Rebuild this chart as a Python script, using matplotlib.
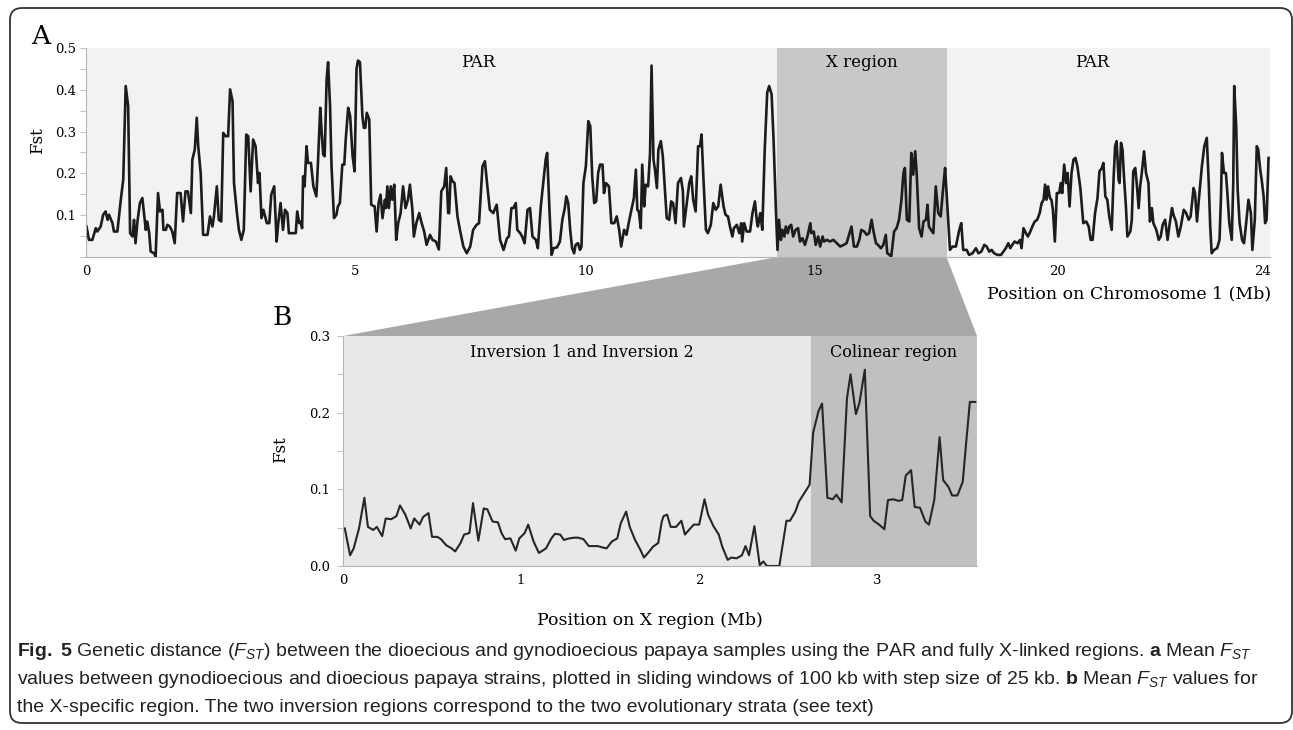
import matplotlib
matplotlib.use('Agg')
import matplotlib.pyplot as plt
from matplotlib.patches import Polygon, FancyBboxPatch
from matplotlib.ticker import MultipleLocator

# Panel A: mean Fst along chromosome 1 (position in Mb)
pos_a = [
    0.01, 0.06, 0.13, 0.20, 0.23, 0.30, 0.35, 0.40, 0.44, 0.47,
    0.54, 0.57, 0.64, 0.71, 0.76, 0.81, 0.86, 0.90, 0.95, 0.98,
    1.01, 1.05, 1.10, 1.15, 1.22, 1.25, 1.29, 1.32, 1.39, 1.42,
    1.47, 1.51, 1.56, 1.58, 1.63, 1.66, 1.71, 1.76, 1.81, 1.86,
    1.93, 1.98, 2.03, 2.08, 2.14, 2.17, 2.22, 2.26, 2.29, 2.34,
    2.39, 2.48, 2.53, 2.58, 2.61, 2.67, 2.71, 2.76, 2.80, 2.85,
    2.90, 2.94, 2.99, 3.02, 3.08, 3.12, 3.17, 3.22, 3.27, 3.31,
    3.36, 3.41, 3.46, 3.51, 3.54, 3.58, 3.62, 3.69, 3.74, 3.78,
    3.84, 3.89, 3.92, 3.97, 4.02, 4.06, 4.11,
    4.14, 4.21, 4.28, 4.31, 4.35, 4.38, 4.41, 4.43, 4.46, 4.50,
    4.53, 4.59, 4.64, 4.70, 4.73, 4.78, 4.81, 4.84, 4.87, 4.91,
    4.94, 4.98, 5.01, 5.06, 5.11, 5.14, 5.18, 5.23, 5.27, 5.30,
    5.35, 5.39, 5.44, 5.48, 5.52, 5.55, 5.59, 5.64, 5.67, 5.70,
    5.73, 5.78, 5.82, 5.89, 5.93, 5.97, 6.01, 6.05, 6.10, 6.12,
    6.15, 6.18, 6.22, 6.25, 6.29, 6.33, 6.37, 6.42, 6.47, 6.52,
    6.57, 6.61, 6.66, 6.69, 6.74, 6.80, 6.84, 6.90, 6.95, 7.02,
    7.07, 7.14, 7.20, 7.25, 7.31, 7.35, 7.39, 7.41, 7.44, 7.48,
    7.52, 7.58, 7.63, 7.70, 7.77, 7.84, 7.90, 7.97, 8.02, 8.09,
    8.14, 8.19, 8.24,
    8.31, 8.38, 8.45, 8.52, 8.59, 8.63, 8.68, 8.72, 8.77, 8.80,
    8.86, 8.90, 8.95, 9.01, 9.06, 9.11, 9.18, 9.22, 9.28, 9.33,
    9.38, 9.41, 9.46, 9.50, 9.54, 9.61, 9.67, 9.72, 9.77, 9.80,
    9.84, 9.88, 9.92, 9.96, 9.99, 10.04, 10.08, 10.11, 10.15, 10.20,
    10.25, 10.29, 10.33, 10.37, 10.41, 10.45, 10.49, 10.54, 10.57, 10.61,
    10.67, 10.72, 10.78, 10.83, 10.88, 10.92, 10.98, 11.03, 11.08, 11.15,
    11.18, 11.22, 11.25, 11.28, 11.32, 11.35, 11.39, 11.42, 11.47, 11.51,
    11.54, 11.58, 11.61, 11.65, 11.68, 11.73, 11.77, 11.81, 11.85, 11.90,
    11.94, 11.98, 12.03, 12.08, 12.14, 12.18, 12.20,
    12.26, 12.31, 12.35, 12.39, 12.44, 12.49, 12.53, 12.56, 12.60, 12.65,
    12.69, 12.75, 12.80, 12.85, 12.90, 12.95, 13.01, 13.05, 13.10, 13.14,
    13.19, 13.22, 13.28, 13.33, 13.37, 13.39, 13.43, 13.48, 13.55, 13.60,
    13.65, 13.69, 13.71, 13.76, 13.80, 13.85, 13.90, 13.94, 13.99, 14.03,
    14.08, 14.11, 14.14, 14.18, 14.21, 14.25, 14.28, 14.32, 14.35, 14.39,
    14.43, 14.48, 14.53, 14.57, 14.62, 14.67, 14.72, 14.78, 14.80, 14.85,
    14.89, 14.94, 14.98, 15.03, 15.06, 15.12, 15.18, 15.25, 15.32, 15.39,
    15.46, 15.52, 15.57, 15.62, 15.67, 15.73, 15.78, 15.82, 15.88, 15.93,
    15.98, 16.03, 16.07, 16.12, 16.16, 16.22, 16.27, 16.32, 16.35, 16.40,
    16.43, 16.49, 16.54, 16.59, 16.64, 16.68, 16.71, 16.75, 16.80, 16.84,
    16.88, 16.92, 16.95, 17.00, 17.05, 17.09, 17.14, 17.17, 17.20, 17.24,
    17.29, 17.34, 17.39, 17.44, 17.50, 17.53, 17.58, 17.63, 17.68, 17.75,
    17.82, 17.86, 17.90, 17.97, 18.02, 18.09, 18.16, 18.21, 18.27, 18.33,
    18.38, 18.43, 18.48, 18.53, 18.60, 18.67, 18.72, 18.77, 18.82, 18.86,
    18.90, 18.95, 19.01, 19.06, 19.09, 19.13, 19.18, 19.22, 19.27, 19.31,
    19.36, 19.41, 19.46, 19.50, 19.54, 19.57, 19.60, 19.63, 19.67, 19.70,
    19.73, 19.77, 19.81, 19.86, 19.89, 19.92, 19.96, 20.00, 20.03, 20.07,
    20.11, 20.15, 20.19, 20.23, 20.29,
    20.35, 20.41, 20.46, 20.50, 20.54, 20.59, 20.64, 20.68, 20.73, 20.76,
    20.80, 20.84, 20.88, 20.93, 20.97, 21.00, 21.03, 21.07, 21.09, 21.12,
    21.15, 21.18, 21.22, 21.25, 21.31, 21.34, 21.37, 21.41, 21.44, 21.48,
    21.51, 21.54, 21.59, 21.63, 21.68, 21.71, 21.75, 21.78, 21.84, 21.89,
    21.93, 21.97, 22.02, 22.07, 22.11, 22.16, 22.19, 22.24, 22.29, 22.34,
    22.40, 22.45, 22.50, 22.54, 22.60, 22.63, 22.67, 22.72, 22.77, 22.82,
    22.87, 22.91, 22.94, 22.97, 23.02, 23.08, 23.13, 23.16, 23.18, 23.22,
    23.26, 23.29, 23.33, 23.38, 23.41, 23.43, 23.47, 23.50, 23.54, 23.59,
    23.63, 23.67, 23.72, 23.77, 23.80, 23.85, 23.89, 23.92, 23.96, 23.99,
    24.03, 24.06, 24.09, 24.13,
]
fst_a = [
    .073, .041, .041, .069, .061, .073, .101, .109, .089, .101,
    .081, .061, .061, .137, .185, .409, .361, .057, .049, .089,
    .033, .085, .129, .141, .065, .085, .057, .013, .009, .000,
    .153, .109, .113, .065, .065, .077, .073, .061, .033, .153,
    .153, .085, .157, .157, .105, .233, .257, .333, .265, .201,
    .053, .053, .097, .073, .097, .169, .089, .085, .297, .289,
    .289, .401, .373, .177, .105, .065, .041, .065, .293, .289,
    .157, .281, .265, .177, .201, .093, .113, .081, .081, .149,
    .169, .037, .077, .129, .065, .113, .105,
    .057, .057, .057, .109, .081, .085, .069, .193, .169, .265,
    .225, .225, .169, .145, .217, .357, .297, .245, .241, .425,
    .466, .361, .217, .093, .101, .121, .129, .221, .221, .281,
    .357, .337, .241, .205, .450, .470, .466, .337, .309, .309,
    .345, .329, .125, .121, .061, .129, .149, .093, .137, .117,
    .169, .117, .169, .137, .173, .041, .081, .105, .169, .117,
    .137, .173, .113, .049, .081, .105, .085, .061, .029, .053,
    .041, .037, .018, .157, .169, .213, .105, .105, .193, .181,
    .177, .097, .065, .025, .009, .025, .065, .077, .081, .217,
    .229, .169, .113,
    .105, .125, .041, .017, .045, .049, .117, .117, .129, .065,
    .057, .049, .033, .113, .117, .049, .041, .021, .121, .177,
    .233, .249, .105, .005, .021, .023, .037, .089, .117, .145,
    .129, .065, .021, .009, .029, .033, .017, .025, .177, .217,
    .325, .313, .193, .129, .133, .201, .221, .221, .153, .177,
    .169, .081, .081, .097, .065, .025, .065, .053, .085, .125,
    .141, .209, .113, .109, .069, .221, .121, .173, .169, .249,
    .458, .233, .209, .165, .257, .277, .241, .169, .093, .089,
    .133, .129, .081, .177, .189, .157, .073,
    .129, .177, .193, .137, .109, .265, .265, .293, .185, .065,
    .057, .077, .129, .113, .121, .173, .121, .101, .097, .073,
    .049, .069, .077, .057, .081, .037, .081, .061, .061, .105,
    .133, .085, .073, .105, .065, .257, .393, .409, .389, .281,
    .105, .017, .089, .041, .065, .049, .073, .057, .073, .077,
    .049, .065, .069, .037, .045, .029, .049, .081, .057, .061,
    .029, .049, .025, .049, .037, .041, .037, .041, .033, .025,
    .029, .033, .053, .073, .025, .025, .041, .065, .061, .053,
    .057, .089, .061, .033, .029, .021, .029, .053, .009, .005,
    .000, .061, .069, .089, .137, .201, .213, .089, .085, .249,
    .197, .253, .201, .069, .049, .085, .089, .125, .073, .065,
    .057, .169, .105, .097, .177, .213, .117, .017, .025, .025,
    .065, .081, .017, .017, .005, .009, .021, .009, .013, .029,
    .025, .013, .017, .009, .005, .005, .013, .021, .033, .021,
    .029, .037, .033, .041, .021, .069, .057, .049, .061, .073,
    .085, .089, .105, .129, .137, .173, .137, .169, .141, .137,
    .113, .037, .153, .153, .177, .153, .221, .177, .201, .121,
    .201, .233, .237, .217, .165,
    .081, .085, .073, .041, .041, .105, .141, .205, .213, .225,
    .145, .137, .097, .065, .193, .265, .277, .185, .177, .273,
    .257, .193, .121, .049, .061, .089, .205, .213, .177, .117,
    .169, .197, .253, .201, .177, .085, .117, .081, .065, .041,
    .049, .077, .089, .041, .077, .117, .101, .085, .049, .073,
    .113, .105, .089, .097, .165, .153, .085, .153, .217, .265,
    .285, .177, .073, .009, .017, .021, .041, .145, .249, .201,
    .201, .153, .081, .041, .177, .409, .313, .161, .081, .041,
    .033, .077, .137, .105, .017, .089, .265, .257, .209, .185,
    .145, .081, .089, .237,
]

# Panel B: Fst across the X-specific region (position in Mb)
pos_b = [
    0.01, 0.04, 0.06, 0.09, 0.12, 0.14, 0.17, 0.19, 0.22, 0.24,
    0.27, 0.30, 0.32, 0.35, 0.38, 0.40, 0.43, 0.45, 0.48, 0.50,
    0.53, 0.55, 0.58, 0.61, 0.63, 0.66, 0.68, 0.71, 0.73, 0.76,
    0.79, 0.81, 0.84, 0.87, 0.89, 0.91, 0.94, 0.97, 0.99, 1.02,
    1.04, 1.07, 1.10, 1.12, 1.14, 1.17, 1.19, 1.22, 1.24, 1.27,
    1.30, 1.32, 1.35, 1.38, 1.40, 1.43, 1.46, 1.48, 1.51, 1.54,
    1.56, 1.59, 1.61, 1.64, 1.67, 1.69, 1.72, 1.74, 1.77, 1.79,
    1.80, 1.82, 1.84, 1.87, 1.90, 1.92, 1.95, 1.97, 2.00, 2.03,
    2.05, 2.08, 2.11, 2.13, 2.16, 2.18, 2.21, 2.24, 2.26, 2.28,
    2.31, 2.34, 2.36, 2.38, 2.41, 2.45, 2.49, 2.51, 2.54, 2.56,
    2.59, 2.62, 2.64, 2.67, 2.69, 2.72, 2.75, 2.77, 2.80, 2.83,
    2.85, 2.88, 2.90, 2.93, 2.96, 2.98, 3.01, 3.04, 3.06, 3.09,
    3.12, 3.14, 3.16, 3.19, 3.21, 3.24, 3.27, 3.29, 3.32, 3.35,
    3.37, 3.40, 3.42, 3.45, 3.48, 3.50, 3.52, 3.55,
]
fst_b = [
    .049, .014, .023, .049, .089, .051, .047, .051, .039, .062,
    .061, .065, .079, .067, .049, .062, .054, .064, .069, .038,
    .038, .035, .027, .023, .019, .030, .041, .043, .082, .033,
    .075, .074, .058, .057, .043, .035, .036, .020, .036, .043,
    .054, .032, .017, .020, .023, .036, .042, .041, .034, .036,
    .037, .037, .035, .026, .026, .026, .024, .023, .032, .036,
    .056, .071, .051, .034, .021, .011, .019, .025, .030, .058,
    .065, .067, .051, .051, .059, .041, .049, .054, .054, .087,
    .067, .052, .041, .025, .008, .011, .010, .014, .026, .014,
    .052, .001, .006, .000, .000, .000, .059, .059, .071, .084,
    .095, .106, .174, .202, .212, .089, .087, .093, .083, .219,
    .250, .198, .213, .256, .065, .059, .054, .048, .086, .087,
    .085, .086, .118, .125, .077, .076, .058, .054, .086, .168,
    .112, .103, .092, .092, .110, .163, .214, .214,
]
assert len(pos_a) == len(fst_a) and len(pos_b) == len(fst_b)

chrom_end = 24.16
x_region = (14.11, 17.56)      # Mb on chromosome 1
x_region_len = 3.56
colinear_start = 2.63          # Mb on X region
# tick labels of A sit where the reference puts them
tick_pos_a = [0, 5.49, 10.2, 14.87, 19.82, 24.0]
tick_lab_a = ['0', '5', '10', '15', '20', '24']
ticks_b = [0, 1, 2, 3]

caption = [
    r'$\mathbf{Fig.\ 5}$ Genetic distance ($F_{ST}$) between the dioecious and gynodioecious papaya samples '
    r'using the PAR and fully X-linked regions. $\mathbf{a}$ Mean $F_{ST}$',
    r'values between gynodioecious and dioecious papaya strains, plotted in sliding windows of 100 kb '
    r'with step size of 25 kb. $\mathbf{b}$ Mean $F_{ST}$ values for',
    'the X-specific region. The two inversion regions correspond to the two evolutionary strata (see text)',
]

plt.rcParams['font.family'] = ['DejaVu Serif']
plt.rcParams['mathtext.fontset'] = 'custom'
plt.rcParams['mathtext.rm'] = 'Liberation Sans'
plt.rcParams['mathtext.it'] = 'Liberation Sans:italic'
plt.rcParams['mathtext.bf'] = 'Liberation Sans:bold'

W, H = 1293, 730
fig = plt.figure(figsize=(W / 100, H / 100), dpi=100)


def px_rect(left, top, right, bottom):
    return [left / W, 1 - bottom / H, (right - left) / W, (bottom - top) / H]


ax_a = fig.add_axes(px_rect(86, 48, 1270, 257))
ax_b = fig.add_axes(px_rect(343, 336, 977, 566))

axis_grey = '#b4b4b4'
for ax in (ax_a, ax_b):
    for s in ('top', 'right'):
        ax.spines[s].set_visible(False)
    ax.spines['left'].set_color(axis_grey)
    ax.spines['bottom'].set_color(axis_grey)
    ax.spines['left'].set_linewidth(0.8)
    ax.spines['bottom'].set_linewidth(0.8)
    ax.yaxis.set_minor_locator(MultipleLocator(0.05))
    ax.tick_params(axis='y', which='both', length=4, width=0.6, color=axis_grey,
                   labelsize=9.5, pad=3)
    ax.tick_params(axis='x', length=0, labelsize=9.5, pad=6)

# ---- panel A
ax_a.set_facecolor('#f2f2f2')
ax_a.axvspan(*x_region, color='#c8c8c8', lw=0)
ax_a.plot(pos_a, fst_a, color='#1c1c1c', lw=1.9, solid_joinstyle='round')
ax_a.set_xlim(0, chrom_end)
ax_a.set_ylim(0, 0.5)
ax_a.set_yticks([0.1, 0.2, 0.3, 0.4, 0.5], ['0.1', '0.2', '0.3', '0.4', '0.5'])
ax_a.set_xticks(tick_pos_a, tick_lab_a)
ax_a.text(8.0, 0.466, 'PAR', ha='center', va='center', fontsize=12)
ax_a.text(sum(x_region) / 2, 0.466, 'X region', ha='center', va='center', fontsize=12)
ax_a.text(20.53, 0.466, 'PAR', ha='center', va='center', fontsize=12)
ax_a.set_ylabel('Fst', fontsize=12, va='center')
ax_a.yaxis.set_label_coords(-0.041, 0.555)
ax_a.set_xlabel('Position on Chromosome 1 (Mb)', fontsize=12.5, ha='right', va='center')
ax_a.xaxis.set_label_coords(1.001, -0.177)

# ---- panel B
ax_b.set_facecolor('#e8e8e8')
ax_b.axvspan(colinear_start, x_region_len, color='#c0c0c0', lw=0)
ax_b.plot(pos_b, fst_b, color='#262626', lw=1.5, solid_joinstyle='round')
ax_b.set_xlim(0, x_region_len)
ax_b.set_ylim(0, 0.3)
ax_b.set_yticks([0, 0.1, 0.2, 0.3], ['0.0', '0.1', '0.2', '0.3'])
ax_b.set_xticks(ticks_b, [str(t) for t in ticks_b])
ax_b.tick_params(axis='y', pad=5)
ax_b.text(1.34, 0.279, 'Inversion 1 and Inversion 2', ha='center', va='center', fontsize=11.5)
ax_b.text(3.09, 0.279, 'Colinear region', ha='center', va='center', fontsize=11.5)
ax_b.set_ylabel('Fst', fontsize=12, va='center')
ax_b.yaxis.set_label_coords(-0.099, 0.504)
ax_b.set_xlabel('Position on X region (Mb)', fontsize=12.5, va='center')
ax_b.xaxis.set_label_coords(0.484, -0.235)

# zoom wedge from the X region of A to the top of B
to_fig = fig.transFigure.inverted()
corners = [ax_a.transData.transform((x_region[0], 0)),
           ax_a.transData.transform((x_region[1], 0)),
           ax_b.transAxes.transform((1, 1)),
           ax_b.transAxes.transform((0, 1))]
wedge = Polygon([to_fig.transform(c) for c in corners], closed=True,
                transform=fig.transFigure, facecolor='#a8a8a8', edgecolor='none', zorder=0)
fig.add_artist(wedge)

fig.text(41 / W, 1 - 37 / H, 'A', fontsize=19, ha='center', va='center')
fig.text(282 / W, 1 - 317 / H, 'B', fontsize=19, ha='center', va='center')

# caption frame and text
frame = FancyBboxPatch((0.10, 0.07), 12.82, 7.15, boxstyle='round,pad=0,rounding_size=0.12',
                       transform=fig.dpi_scale_trans, facecolor='none', edgecolor='#333333', lw=1.3)
fig.add_artist(frame)
for i, line in enumerate(caption):
    fig.text(17 / W, 1 - (652 + 28 * i) / H, line, ha='left', va='center', fontsize=14,
             family=['Liberation Sans', 'DejaVu Sans'], color='#222222')

fig.savefig('out.png', dpi=100)
